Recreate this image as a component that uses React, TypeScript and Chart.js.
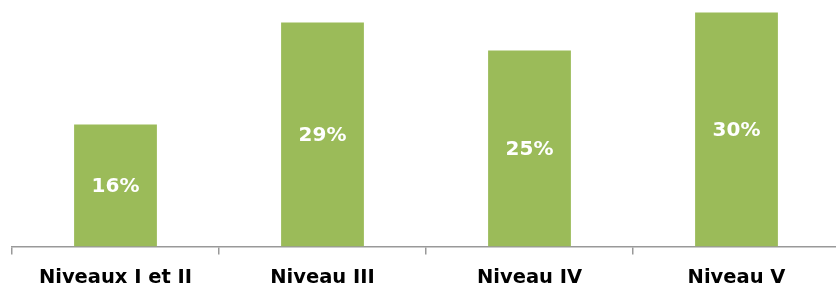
import React, { useEffect, useRef } from "react";
import { Chart, registerables } from "chart.js";

Chart.register(...registerables);

const categories = ["Niveaux I et II", "Niveau III", "Niveau IV", "Niveau V"];
const values = [15.66, 28.72, 25.12, 30.0];
const valueLabels = ["16%", "29%", "25%", "30%"];

const barLabelPlugin = {
  id: "barLabelPlugin",
  afterDatasetsDraw(chart: any) {
    const ctx = chart.ctx;
    const meta = chart.getDatasetMeta(0);
    ctx.save();
    ctx.fillStyle = "#ffffff";
    ctx.font = "bold 20px 'DejaVu Sans'";
    ctx.textAlign = "center";
    ctx.textBaseline = "middle";
    meta.data.forEach((el: any, i: number) => {
      const y = (el.y + el.base) / 2;
      ctx.fillText(valueLabels[i], el.x, y + 1);
    });
    ctx.restore();
  },
};

export default function App() {
  const ref = useRef<HTMLCanvasElement | null>(null);
  useEffect(() => {
    document.documentElement.style.overflow = "hidden";
    document.body.style.overflow = "hidden";
    document.body.style.margin = "0";
    const chart = new Chart(ref.current as HTMLCanvasElement, {
      type: "bar",
      data: {
        labels: categories,
        datasets: [
          {
            data: values,
            backgroundColor: "#9BBB59",
            borderWidth: 0,
            barPercentage: 0.4,
            categoryPercentage: 1,
          },
        ],
      },
      options: {
        animation: false,
        responsive: false,
        maintainAspectRatio: false,
        layout: { padding: { left: 12, right: 0, top: 0, bottom: 0 } },
        plugins: { legend: { display: false }, tooltip: { enabled: false } },
        scales: {
          x: {
            grid: {
              display: true,
              drawOnChartArea: false,
              drawTicks: true,
              tickLength: 8,
              color: "#999999",
              lineWidth: 1.5,
            },
            border: { display: true, color: "#999999", width: 1.5 },
            ticks: {
              color: "#000000",
              font: { family: "'DejaVu Sans'", size: 19.5, weight: "bold" },
              padding: 12,
              maxRotation: 0,
              autoSkip: false,
            },
          },
          y: { display: false, min: 0, max: 31.6 },
        },
      },
      plugins: [barLabelPlugin],
    });
    return () => chart.destroy();
  }, []);
  return (
    <div style={{ position: "absolute", left: 0, top: 0, width: 840, height: 302, overflow: "hidden" }}>
      <canvas ref={ref} width={840} height={302} style={{ display: "block" }} />
    </div>
  );
}
